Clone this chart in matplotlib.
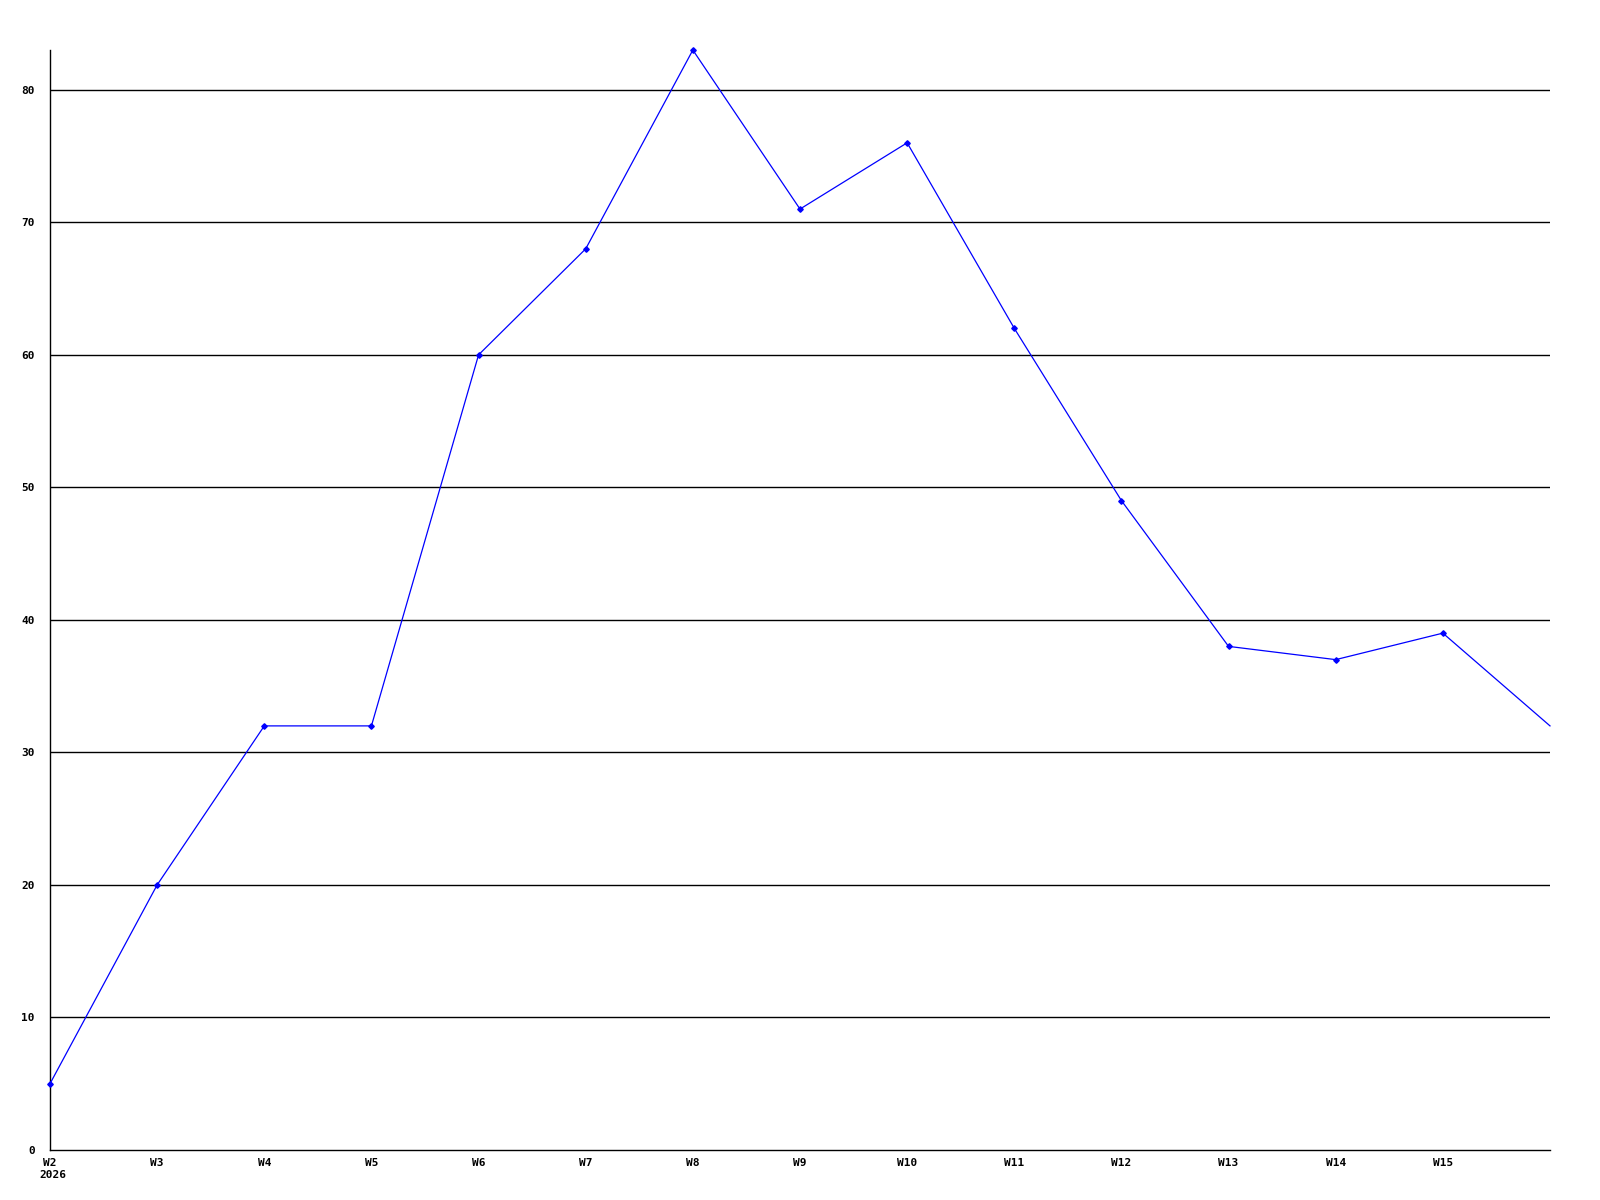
import matplotlib.pyplot as plt

# Weekly values (W16 has no tick label, it sits on the right edge)
weeks = ["W2", "W3", "W4", "W5", "W6", "W7", "W8", "W9", "W10",
         "W11", "W12", "W13", "W14", "W15", "W16"]
values = [5, 20, 32, 32, 60, 68, 83, 71, 76, 62, 49, 38, 37, 39, 32]
tick_labels = weeks[:-1]
y_ticks = [0, 10, 20, 30, 40, 50, 60, 70, 80]
year_label = "2026"

plt.rcParams["font.family"] = ["DejaVu Sans Mono"]
plt.rcParams["font.weight"] = "bold"

fig = plt.figure(figsize=(16, 12), dpi=100)
ax = fig.add_axes([0.03125, 0.0417, 0.9375, 0.9166])

x = list(range(len(values)))
ax.plot(x, values, color="#0000ff", linewidth=0.9, marker="D",
        markersize=2.8, markevery=list(range(len(values) - 1)),
        clip_on=False, zorder=3)

ax.set_xlim(0, len(values) - 1)
ax.set_ylim(0, 83)

# Horizontal grid lines
for t in y_ticks[1:]:
    ax.axhline(t, color="black", linewidth=1, zorder=1)

ax.set_xticks(x[:-1])
ax.set_xticklabels(tick_labels, fontsize=8, fontweight="bold")
ax.set_yticks(y_ticks)
ax.set_yticklabels([str(v) for v in y_ticks], fontsize=8, fontweight="bold")
ax.tick_params(length=0, pad=6)
ax.tick_params(axis="y", pad=11)

for s in ["top", "right"]:
    ax.spines[s].set_visible(False)
for s in ["left", "bottom"]:
    ax.spines[s].set_color("black")
    ax.spines[s].set_linewidth(1)

ax.text(-0.1, -1.5, year_label, fontsize=8, fontweight="bold",
        ha="left", va="top", clip_on=False)

fig.savefig("out.png", dpi=100, facecolor="white")
